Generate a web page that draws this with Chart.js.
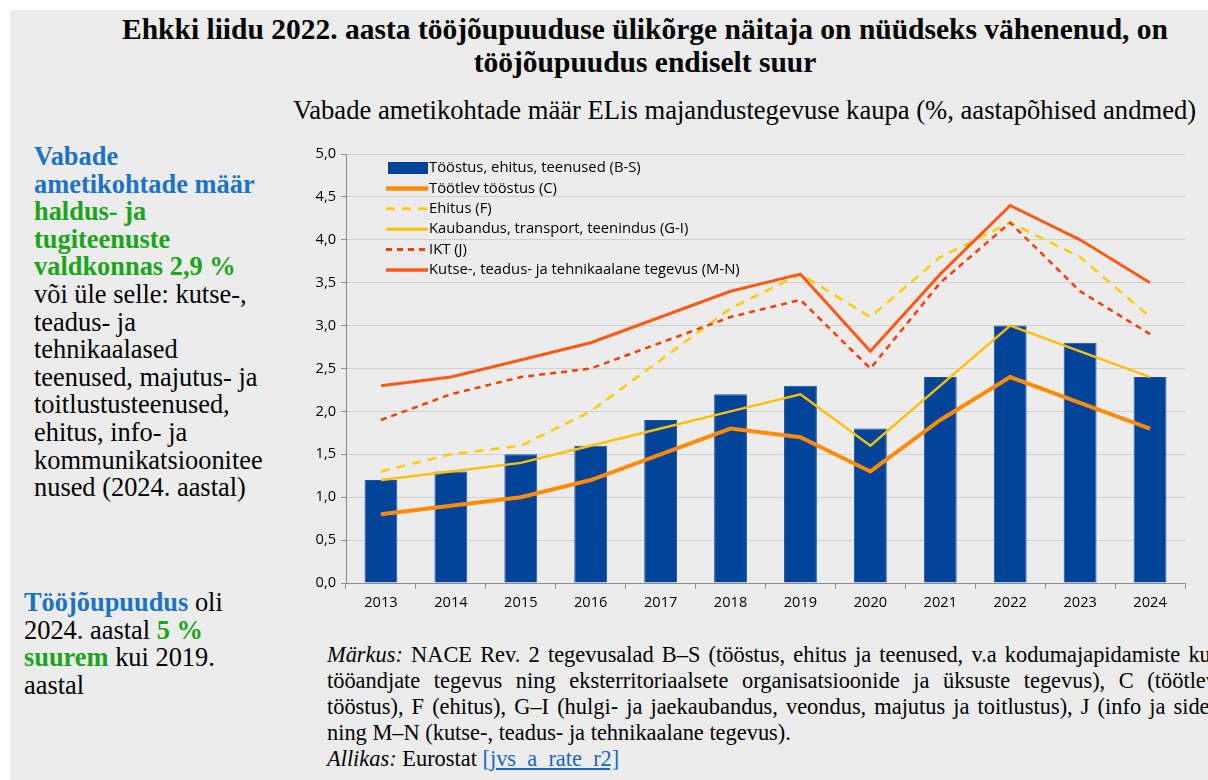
<!DOCTYPE html>
<html><head><meta charset="utf-8">
<script src="https://cdn.jsdelivr.net/npm/chart.js@4"></script>
<style>
html,body{margin:0;padding:0;width:1208px;height:780px;overflow:hidden;background:#fff;}
#panel{position:absolute;left:10px;top:10px;width:1198px;height:770px;background:#ececec;}
.t{position:absolute;font-family:"Liberation Serif","Times New Roman",serif;color:#000;white-space:nowrap;}
#title{left:90px;width:1110px;top:13px;text-align:center;font-weight:bold;font-size:29.5px;line-height:33px;}
#sub{left:293px;top:94px;font-size:26.6px;line-height:32px;}
#side{left:34px;top:143px;font-size:26.4px;line-height:27.6px;}
#side2{left:24px;top:589px;font-size:26.4px;line-height:27.6px;}
.b{color:#1a73c6;font-weight:bold;}
.g{color:#1aa51a;font-weight:bold;}
#note{left:327px;top:642px;font-size:22.4px;line-height:26px;}
#note div{width:890px;text-align:justify;text-align-last:justify;white-space:nowrap;}
#note div.l{text-align-last:left;}
a{color:#1a66c8;}
#cw{position:absolute;left:290px;top:140px;width:918px;height:485px;}
</style></head>
<body>
<div id="panel"></div>
<div class="t" id="title">Ehkki liidu 2022. aasta tööjõupuuduse ülikõrge näitaja on nüüdseks vähenenud, on<br>tööjõupuudus endiselt suur</div>
<div class="t" id="sub">Vabade ametikohtade määr ELis majandustegevuse kaupa (%, aastapõhised andmed)</div>
<div class="t" id="side"><span class="b">Vabade<br>ametikohtade määr</span><br><span class="g">haldus- ja<br>tugiteenuste<br>valdkonnas 2,9 %</span><br>või üle selle: kutse-,<br>teadus- ja<br>tehnikaalased<br>teenused, majutus- ja<br>toitlustusteenused,<br>ehitus, info- ja<br>kommunikatsioonitee<br>nused (2024. aastal)</div>
<div class="t" id="side2"><span class="b">Tööjõupuudus</span> oli<br>2024. aastal <span class="g">5 %<br>suurem</span> kui 2019.<br>aastal</div>
<div class="t" id="note">
<div><i>Märkus:</i> NACE Rev. 2 tegevusalad B–S (tööstus, ehitus ja teenused, v.a kodumajapidamiste kui</div>
<div>tööandjate tegevus ning eksterritoriaalsete organisatsioonide ja üksuste tegevus), C (töötlev</div>
<div>tööstus), F (ehitus), G–I (hulgi- ja jaekaubandus, veondus, majutus ja toitlustus), J (info ja side)</div>
<div class="l">ning M–N (kutse-, teadus- ja tehnikaalane tegevus).</div>
<div class="l"><i>Allikas:</i> Eurostat <a href="#">[jvs_a_rate_r2]</a></div>
</div>
<div id="cw"><canvas id="c" width="918" height="485"></canvas></div>
<script>
const years = ['2013','2014','2015','2016','2017','2018','2019','2020','2021','2022','2023','2024'];
const totalBS = [1.2,1.3,1.5,1.6,1.9,2.2,2.3,1.8,2.4,3.0,2.8,2.4];
const manufC = [0.8,0.9,1.0,1.2,1.5,1.8,1.7,1.3,1.9,2.4,2.1,1.8];
const constrF = [1.3,1.5,1.6,2.0,2.6,3.2,3.6,3.1,3.8,4.2,3.8,3.1];
const tradeGI = [1.2,1.3,1.4,1.6,1.8,2.0,2.2,1.6,2.3,3.0,2.7,2.4];
const ictJ = [1.9,2.2,2.4,2.5,2.8,3.1,3.3,2.5,3.5,4.2,3.4,2.9];
const profMN = [2.3,2.4,2.6,2.8,3.1,3.4,3.6,2.7,3.6,4.4,4.0,3.5];
const yTicks = [0,0.5,1,1.5,2,2.5,3,3.5,4,4.5,5];

const FONT = '"Open Sans", "Liberation Sans", sans-serif';
function line(label, data, color, width, dash, order){
  return {type:'line',label,data,borderColor:color,backgroundColor:color,borderWidth:width,
    borderDash:dash||[],pointRadius:0,pointHoverRadius:0,tension:0,order,borderCapStyle:'butt'};
}
new Chart(document.getElementById('c'),{
  type:'bar',
  data:{labels:years,datasets:[
    {type:'bar',label:'Tööstus, ehitus, teenused (B-S)',data:totalBS,backgroundColor:'#00449a',borderColor:'#1c56a2',borderWidth:{top:1,left:1,right:1,bottom:0},barPercentage:0.47,categoryPercentage:1,order:10},
    line('Töötlev tööstus (C)',manufC,'#ff8c00',4,null,5),
    line('Ehitus (F)',constrF,'#ffcc00',2.5,[9,7],4),
    line('Kaubandus, transport, teenindus (G-I)',tradeGI,'#ffc000',2.5,null,3),
    line('IKT (J)',ictJ,'#ff3c00',2.5,[6,5],2),
    line('Kutse-, teadus- ja tehnikaalane tegevus (M-N)',profMN,'#ff5a14',3,null,1)
  ]},
  options:{
    responsive:false,animation:false,
    layout:{padding:{top:14,right:23,left:0,bottom:0}},
    plugins:{tooltip:{enabled:false},legend:{display:false}},
    scales:{
      x:{
        grid:{display:true,offset:true,drawOnChartArea:false,drawTicks:true,tickLength:6,color:'#8c8c8c',lineWidth:1},
        border:{display:true,color:'#8c8c8c',width:1},
        ticks:{color:'#000',font:{family:FONT,size:14.6},padding:5,maxRotation:0},
        afterFit(s){s.height=42;}
      },
      y:{
        min:0,max:5,
        afterBuildTicks(s){s.ticks=yTicks.map(v=>({value:v}));},
        grid:{color:'#d0d0d0',lineWidth:1,drawTicks:true,tickLength:5,tickColor:'#8c8c8c',tickBorderDash:[]},
        border:{display:true,color:'#8c8c8c',width:1},
        ticks:{color:'#000',font:{family:FONT,size:14.6},padding:5,callback:v=>v.toFixed(1).replace('.',',')},
        afterFit(s){s.width=56;}
      }
    }
  },
  plugins:[{
    id:'dottedGrid',
    beforeDraw(chart){ chart.scales.y.options.grid.borderDash=[3,3]; }
  },{
    id:'legendBox',
    afterDraw(chart){
      const ctx=chart.ctx, ds=chart.data.datasets;
      const x0=96, y0=28, step=20.4;
      ctx.save();
      ctx.font='14.8px '+FONT;
      ctx.textBaseline='middle';
      ds.forEach((d,i)=>{
        const y=y0+i*step;
        if(d.type==='bar'){
          ctx.fillStyle=d.backgroundColor;ctx.fillRect(x0+2,y-6,40,12);
        }else{
          ctx.strokeStyle=d.borderColor;ctx.lineWidth=d.borderWidth+0.5;
          ctx.setLineDash(d.borderDash||[]);
          ctx.beginPath();ctx.moveTo(x0,y);ctx.lineTo(x0+42,y);ctx.stroke();
          ctx.setLineDash([]);
        }
        ctx.fillStyle='#000';
        ctx.fillText(d.label,x0+43,y);
      });
      ctx.restore();
    }
  }]
});
</script>
</body></html>
